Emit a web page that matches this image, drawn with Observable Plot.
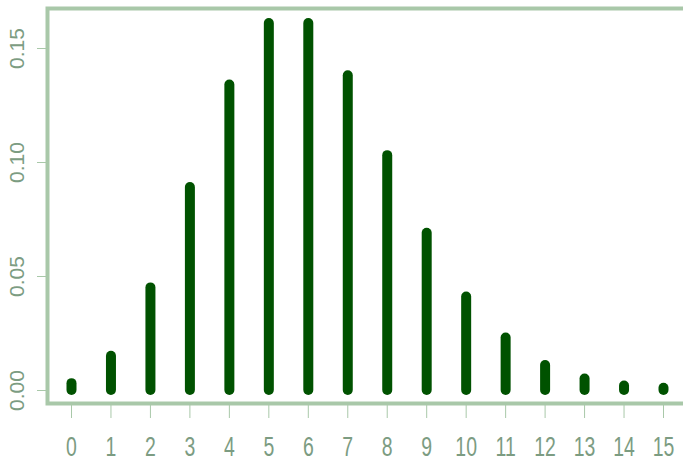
<!DOCTYPE html>
<html>
<head>
<meta charset="utf-8">
<script src="https://cdn.jsdelivr.net/npm/d3@7"></script>
<script src="https://cdn.jsdelivr.net/npm/@observablehq/plot@0.6"></script>
<style>
  html, body { margin: 0; padding: 0; background: white; }
</style>
</head>
<body>
<div id="chart"></div>
<script>
// Counts (x categories) and their probabilities
const counts = [0, 1, 2, 3, 4, 5, 6, 7, 8, 9, 10, 11, 12, 13, 14, 15];
const probs  = [0.003, 0.015, 0.045, 0.089, 0.134, 0.161, 0.161, 0.138, 0.103, 0.069, 0.041, 0.023, 0.011, 0.005, 0.002, 0.001];
const yTicks = [0, 0.05, 0.10, 0.15];
const xTicks = counts;

const data = counts.map((k, i) => ({k, p: probs[i]}));

const axisColor = "#a9c8a9";
const textColor = "#7c9c82";
const font = "'Liberation Sans', Arial, sans-serif";

const chart = Plot.plot({
  width: 683,
  height: 463,
  marginLeft: 47,
  marginTop: 8,
  marginBottom: 60,
  marginRight: -8,
  style: {background: "white"},
  x: {domain: [0, 15], range: [71, 663], axis: null},
  y: {domain: [0, 0.15], range: [390, 48], axis: null},
  marks: [
    Plot.frame({stroke: axisColor, strokeWidth: 4}),
    Plot.axisX({
      ticks: xTicks, tickSize: 15, tickPadding: 18,
      stroke: axisColor, fill: textColor,
      fontSize: 27, fontFamily: font,
      tickFormat: d => String(d), label: null
    }),
    Plot.axisY({
      ticks: yTicks, tickSize: 10, stroke: axisColor, fill: "none", label: null
    }),
    Plot.text(yTicks, {
      y: d => d, text: d => d.toFixed(2), frameAnchor: "left", dx: -30,
      rotate: -90, textAnchor: "middle", lineAnchor: "middle",
      fill: textColor, fontSize: 21, fontFamily: font, ariaLabel: "y-label"
    }),
    Plot.ruleX(data, {
      x: "k", y1: 0, y2: "p", stroke: "#005200", strokeWidth: 10, strokeLinecap: "round"
    })
  ]
});

// Stretch the tick label glyphs to the reference's tall, narrow look
d3.select(chart).selectAll("g[aria-label='x-axis tick label'] text")
  .attr("transform", function() { return (this.getAttribute("transform") || "") + " scale(0.72,1)"; });
d3.select(chart).selectAll("g[aria-label='y-label'] text")
  .attr("transform", function() { return (this.getAttribute("transform") || "") + " scale(1.25,1)"; });

document.getElementById("chart").appendChild(chart);
</script>
</body>
</html>
